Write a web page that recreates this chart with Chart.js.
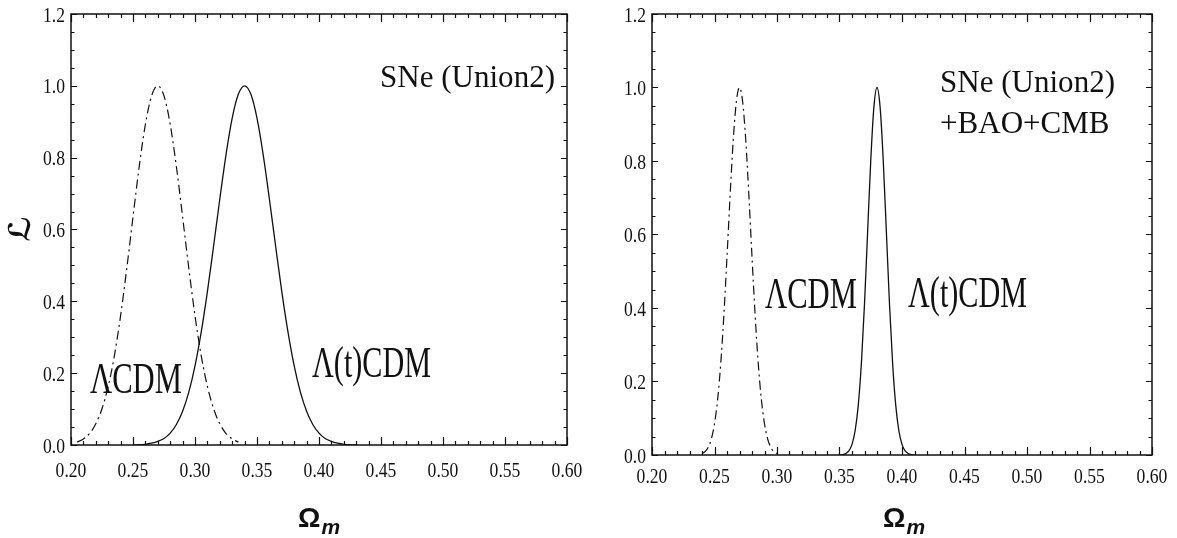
<!DOCTYPE html>
<html>
<head>
<meta charset="utf-8">
<script src="https://cdn.jsdelivr.net/npm/chart.js@4/dist/chart.umd.min.js"></script>
<style>
  html, body { margin:0; padding:0; background:#fff; }
  #wrap { position:relative; width:1177px; height:538px; }
  canvas { position:absolute; top:0; }
</style>
</head>
<body>
<div id="wrap">
  <canvas id="panelSn" width="590" height="538" style="left:0"></canvas>
  <canvas id="panelAll" width="587" height="538" style="left:590px"></canvas>
</div>
<script>
// tick values and labels
const xTicks = [0.20, 0.25, 0.30, 0.35, 0.40, 0.45, 0.50, 0.55, 0.60];
const xTickLabels = ['0.20','0.25','0.30','0.35','0.40','0.45','0.50','0.55','0.60'];
const yTicks = [0.0, 0.2, 0.4, 0.6, 0.8, 1.0, 1.2];
const yTickLabels = ['0.0','0.2','0.4','0.6','0.8','1.0','1.2'];

// SNe (Union2) only
const omLcdmSn = [0.205,0.21,0.215,0.22,0.225,0.23,0.235,0.24,0.245,0.25,0.255,0.26,0.265,0.27,
                  0.275,0.28,0.285,0.29,0.295,0.30,0.305,0.31,0.315,0.32,0.325,0.33,0.335];
const likeLcdmSn = [0.008,0.017,0.032,0.059,0.101,0.163,0.249,0.360,0.492,0.635,0.775,0.893,0.972,1.0,
                    0.972,0.893,0.775,0.635,0.492,0.360,0.249,0.163,0.101,0.059,0.032,0.017,0.008];
const omLtSn = [0.25,0.26,0.265,0.27,0.275,0.28,0.285,0.29,0.295,0.30,0.305,0.31,0.315,0.32,0.325,0.33,0.335,0.34,
                0.345,0.35,0.355,0.36,0.365,0.37,0.375,0.38,0.385,0.39,0.395,0.40,0.405,0.41,0.415,0.42,0.43];
const likeLtSn = [0.0,0.002,0.005,0.010,0.018,0.033,0.057,0.094,0.147,0.220,0.314,0.427,0.554,0.685,0.808,0.910,0.977,1.0,
                  0.977,0.910,0.808,0.685,0.554,0.427,0.314,0.220,0.147,0.094,0.057,0.033,0.018,0.010,0.005,0.002,0.0];

// SNe (Union2) + BAO + CMB
const omLcdmAll = [0.24,0.2425,0.245,0.2475,0.25,0.2525,0.255,0.2575,0.26,0.2625,0.265,0.2675,0.27,
                   0.2725,0.275,0.2775,0.28,0.2825,0.285,0.2875,0.29,0.2925,0.295,0.2975,0.30];
const likeLcdmAll = [0.004,0.009,0.021,0.044,0.085,0.151,0.249,0.381,0.539,0.707,0.857,0.962,1.0,
                     0.962,0.857,0.707,0.539,0.381,0.249,0.151,0.085,0.044,0.021,0.009,0.004];
const omLtAll = [0.35,0.3525,0.355,0.3575,0.36,0.3625,0.365,0.3675,0.37,0.3725,0.375,0.3775,0.38,
                 0.3825,0.385,0.3875,0.39,0.3925,0.395,0.3975,0.40,0.4025,0.405,0.4075,0.41];
const likeLtAll = [0.0,0.001,0.004,0.011,0.029,0.066,0.135,0.249,0.411,0.607,0.801,0.946,1.0,
                   0.946,0.801,0.607,0.411,0.249,0.135,0.066,0.029,0.011,0.004,0.001,0.0];

const SERIF = '"Liberation Serif", "Times New Roman", serif';

function pts(xs, ys) {
  return xs.map((x, i) => ({ x: x, y: ys[i] }));
}

// text squeezed horizontally, like the narrow Times used in the plot
function squeezed(ctx, text, x, y, size, sx, align) {
  ctx.save();
  ctx.font = size + 'px ' + SERIF;
  ctx.textAlign = align || 'left';
  ctx.textBaseline = 'alphabetic';
  ctx.translate(x, y);
  ctx.scale(sx, 1);
  ctx.fillText(text, 0, 0);
  ctx.restore();
}

const framePlugin = {
  id: 'frame',
  afterDraw(chart, args, opts) {
    const ctx = chart.ctx;
    const a = chart.chartArea;
    const xs = chart.scales.x, ys = chart.scales.y;
    ctx.save();
    ctx.strokeStyle = '#111';
    ctx.fillStyle = '#111';
    ctx.lineWidth = 1.5;
    ctx.strokeRect(a.left, a.top, a.right - a.left, a.bottom - a.top);

    // inward ticks on all four sides
    ctx.lineWidth = 1.2;
    ctx.beginPath();
    for (let i = 0; i <= 40; i++) {
      const px = Math.round(xs.getPixelForValue(0.2 + i * 0.01)) + 0.5;
      const len = i % 5 === 0 ? 8 : 4;
      ctx.moveTo(px, a.bottom); ctx.lineTo(px, a.bottom - len);
      ctx.moveTo(px, a.top); ctx.lineTo(px, a.top + len);
    }
    for (let i = 0; i <= 24; i++) {
      const py = Math.round(ys.getPixelForValue(i * 0.05)) + 0.5;
      const len = i % 4 === 0 ? 6 : 3.5;
      ctx.moveTo(a.left, py); ctx.lineTo(a.left + len, py);
      ctx.moveTo(a.right, py); ctx.lineTo(a.right - len, py);
    }
    ctx.stroke();

    // tick labels
    xTicks.forEach((v, i) => {
      squeezed(ctx, xTickLabels[i], xs.getPixelForValue(v), a.bottom + opts.xLabelGap, 22, 0.8, 'center');
    });
    yTicks.forEach((v, i) => {
      squeezed(ctx, yTickLabels[i], a.left - 6, ys.getPixelForValue(v) + 7.5, 22, 0.8, 'right');
    });

    // curve labels
    opts.texts.forEach(t => squeezed(ctx, t.text, t.x, t.y, t.size, t.sx, 'left'));

    // x axis title: Omega_m
    ctx.textAlign = 'left';
    ctx.textBaseline = 'alphabetic';
    ctx.font = 'bold 28px "Liberation Sans", Arial, sans-serif';
    ctx.fillText('Ω', opts.omega.x, opts.omega.y);
    const w = ctx.measureText('Ω').width;
    ctx.font = 'italic bold 21px "Liberation Sans", Arial, sans-serif';
    ctx.fillText('m', opts.omega.x + w + 1, opts.omega.y + 7);

    // y axis title (likelihood)
    if (opts.yTitle) {
      ctx.translate(opts.yTitle.x, opts.yTitle.y);
      ctx.rotate(-Math.PI / 2);
      ctx.textAlign = 'center';
      ctx.textBaseline = 'middle';
      ctx.font = 'bold 30px "DejaVu Serif", "DejaVu Sans", serif';
      ctx.fillText('ℒ', 0, 0);
    }
    ctx.restore();
  }
};

function makePanel(id, padding, lcdm, lt, frameOpts) {
  return new Chart(document.getElementById(id), {
    type: 'line',
    data: {
      datasets: [
        {
          data: lcdm,
          borderColor: '#111',
          borderWidth: 1.2,
          borderDash: [9, 4, 2, 4],
          pointRadius: 0,
          cubicInterpolationMode: 'monotone',
          fill: false
        },
        {
          data: lt,
          borderColor: '#111',
          borderWidth: 1.3,
          pointRadius: 0,
          cubicInterpolationMode: 'monotone',
          fill: false
        }
      ]
    },
    options: {
      responsive: false,
      devicePixelRatio: 1,
      animation: false,
      layout: { padding: padding },
      plugins: { legend: { display: false }, tooltip: { enabled: false }, frame: frameOpts },
      scales: {
        x: { type: 'linear', min: 0.2, max: 0.6, display: false },
        y: { type: 'linear', min: 0, max: 1.2, display: false }
      }
    },
    plugins: [framePlugin]
  });
}

makePanel('panelSn', { left: 71, top: 14, right: 23, bottom: 93 },
  pts(omLcdmSn, likeLcdmSn), pts(omLtSn, likeLtSn), {
    xLabelGap: 32,
    texts: [
      { text: 'SNe (Union2)', x: 380, y: 87, size: 32, sx: 0.97 },
      { text: 'ΛCDM', x: 90, y: 393, size: 45, sx: 0.68 },
      { text: 'Λ(t)CDM', x: 312, y: 377, size: 45, sx: 0.67 }
    ],
    omega: { x: 298, y: 527 },
    yTitle: { x: 22, y: 229 }
  });

makePanel('panelAll', { left: 62, top: 14, right: 25, bottom: 83 },
  pts(omLcdmAll, likeLcdmAll), pts(omLtAll, likeLtAll), {
    xLabelGap: 28,
    texts: [
      { text: 'SNe (Union2)', x: 350, y: 92, size: 32, sx: 0.97 },
      { text: '+BAO+CMB', x: 350, y: 133, size: 32, sx: 0.97 },
      { text: 'ΛCDM', x: 175, y: 308, size: 45, sx: 0.68 },
      { text: 'Λ(t)CDM', x: 318, y: 307, size: 45, sx: 0.67 }
    ],
    omega: { x: 293, y: 527 },
    yTitle: null
  });
</script>
</body>
</html>
